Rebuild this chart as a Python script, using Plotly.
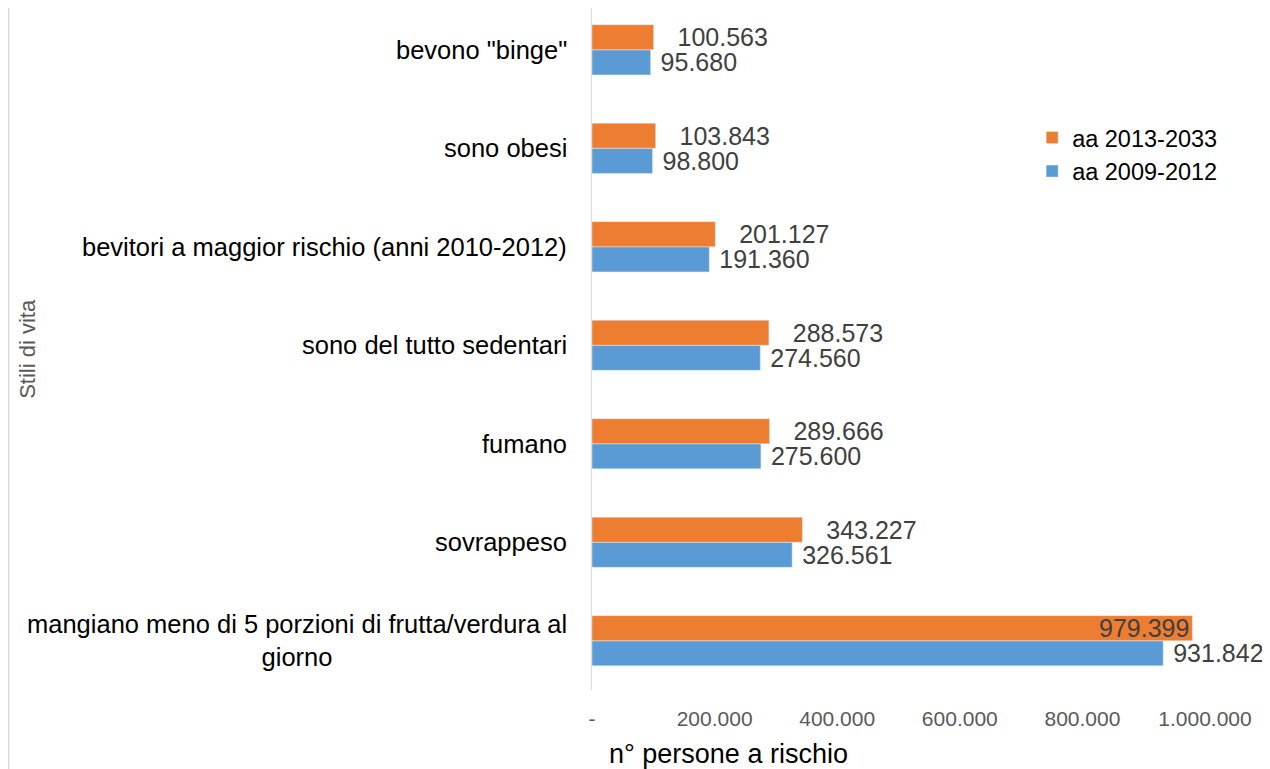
import plotly.graph_objects as go

categories = [
    "mangiano meno di 5 porzioni di frutta/verdura al<br>giorno",
    "sovrappeso",
    "fumano",
    "sono del tutto sedentari",
    "bevitori a maggior rischio (anni 2010-2012)",
    "sono obesi",
    "bevono \"binge\"",
]
series_2009_2012 = [931842, 326561, 275600, 274560, 191360, 98800, 95680]
series_2013_2033 = [979399, 343227, 289666, 288573, 201127, 103843, 100563]
tick_values = [0, 200000, 400000, 600000, 800000, 1000000]
tick_labels = ["-", "200.000", "400.000", "600.000", "800.000", "1.000.000"]

FONT = "Liberation Sans, Arial, sans-serif"
BLUE = "#5B9BD5"
ORANGE = "#ED7D31"
NB = "\u00a0"
LABEL_SIZE = 25


def fmt(v):
    return f"{v:,}".replace(",", ".")


fig = go.Figure()
fig.add_trace(go.Bar(
    y=categories, x=series_2009_2012, orientation="h", name="aa 2009-2012",
    marker_color=BLUE, legendgroup="a",
    text=[NB + fmt(v) for v in series_2009_2012],
    textposition="outside", cliponaxis=False, constraintext="none",
    textfont=dict(family=FONT, size=LABEL_SIZE, color="#404040"),
))
orange_pos = ["inside"] + ["outside"] * (len(categories) - 1)
fig.add_trace(go.Bar(
    y=categories, x=series_2013_2033, orientation="h", name="aa 2013-2033",
    marker_color=ORANGE, legendgroup="b",
    text=[(NB * 3 if p == "outside" else "") + fmt(v)
          for v, p in zip(series_2013_2033, orange_pos)],
    textposition=orange_pos,
    insidetextanchor="end", constraintext="none",
    insidetextfont=dict(family=FONT, size=LABEL_SIZE, color="#404040"),
    outsidetextfont=dict(family=FONT, size=LABEL_SIZE, color="#404040"),
    cliponaxis=False,
))

for c in categories:
    fig.add_annotation(
        x=0, xref="paper", y=c, yref="y", text=c, showarrow=False,
        xanchor="right", xshift=-23, align="center",
        font=dict(family=FONT, size=25.5, color="#000000"),
    )

fig.add_annotation(
    x=-0.922, xref="paper", y=0.5, yref="paper", text="Stili di vita",
    textangle=-90, showarrow=False, xanchor="center", yanchor="middle",
    font=dict(family=FONT, size=22, color="#595959"),
)
fig.add_annotation(
    x=0.0245, xref="paper", y=-0.069, yref="paper", yanchor="top", xanchor="left",
    text="n° persone a rischio", showarrow=False,
    font=dict(family=FONT, size=27, color="#000000"),
)
fig.add_shape(
    type="line", xref="paper", yref="paper", x0=-0.953, x1=-0.953, y0=-0.2, y1=1.0,
    line=dict(color="#d9d9d9", width=3),
)

fig.update_layout(
    width=1262, height=761,
    margin=dict(l=584, r=65, t=0, b=79),
    paper_bgcolor="white", plot_bgcolor="white",
    barmode="group", bargap=0.49, bargroupgap=0,
    showlegend=True,
    legend=dict(
        x=0.718, y=0.842, xanchor="left", yanchor="top",
        traceorder="reversed", tracegroupgap=20,
        font=dict(family=FONT, size=23.5, color="#000000"),
        bgcolor="rgba(0,0,0,0)",
    ),
    xaxis=dict(
        range=[0, 1000000], tickvals=tick_values, ticktext=tick_labels,
        showgrid=False, zeroline=False, showline=False,
        tickfont=dict(family=FONT, size=21, color="#595959"),
        ticklabelstandoff=14,
    ),
    yaxis=dict(
        type="category", categoryorder="array", categoryarray=categories,
        range=[-0.5, 6.424],
        showticklabels=False, showgrid=False, zeroline=False,
        showline=True, linecolor="#d9d9d9", linewidth=1,
    ),
)

fig.write_html("out.html")
